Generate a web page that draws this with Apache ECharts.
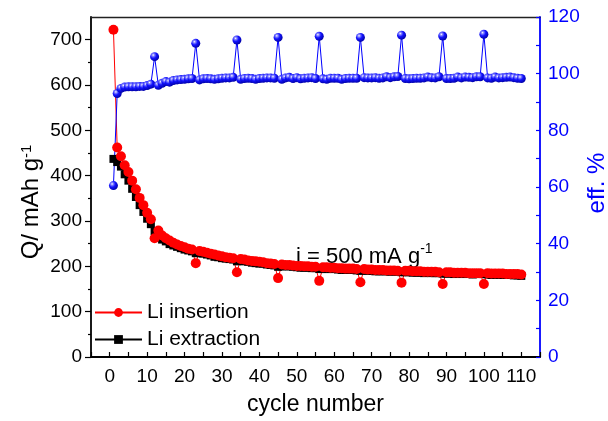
<!DOCTYPE html>
<html>
<head>
<meta charset="utf-8">
<script src="https://cdn.jsdelivr.net/npm/echarts@6/dist/echarts.min.js"></script>
<style>
html, body { margin: 0; padding: 0; background: #fff; }
#myChart { width: 608px; height: 421px; }
</style>
</head>
<body>
<div id="myChart"></div>
<script>
// cycle number 1..110
var cycles = [1,2,3,4,5,6,7,8,9,10,11,12,13,14,15,16,17,18,19,20,
    21,22,23,24,25,26,27,28,29,30,31,32,33,34,35,36,37,38,39,40,
    41,42,43,44,45,46,47,48,49,50,51,52,53,54,55,56,57,58,59,60,
    61,62,63,64,65,66,67,68,69,70,71,72,73,74,75,76,77,78,79,80,
    81,82,83,84,85,86,87,88,89,90,91,92,93,94,95,96,97,98,99,100,
    101,102,103,104,105,106,107,108,109,110];

// Q / mAh g-1 (Li insertion)
var insertion = [722,462,443,423,408,389,370,351,335,318,304,262,279,268,262,257,252,248,245,242,
    239,237,207,234,232,230,228,226,224,222,220,219,218,187,216,215,213,212,211,210,
    209,207,206,205,174,204,203,203,202,201,201,200,200,199,199,168,198,198,197,197,
    196,196,195,195,195,194,165,194,193,193,192,192,192,191,191,191,190,164,190,190,
    189,189,189,188,188,188,188,187,161,187,187,186,186,186,186,185,185,185,185,161,
    185,184,184,184,184,183,183,183,183,182];

// Q / mAh g-1 (Li extraction)
var extraction = [437,430,420,403,389,371,353,335,320,305,293,278,268,259,255,249,246,243,240,237,
    235,233,229,229,228,226,224,221,220,218,217,216,215,211,212,211,210,208,207,206,
    206,204,203,202,199,200,200,200,199,198,197,197,197,196,196,194,194,194,194,194,
    193,192,192,192,192,191,190,191,190,190,189,189,189,189,188,189,188,187,187,187,
    186,186,186,185,186,185,185,185,184,184,184,183,184,183,184,183,182,183,183,183,
    182,181,182,181,181,181,181,180,180,179];

// eff. %
var efficiency = [60.5,93.0,94.8,95.3,95.4,95.4,95.4,95.5,95.5,95.8,96.3,106.0,95.9,96.6,97.2,97.0,97.6,97.8,97.9,98.0,
    98.2,98.3,110.7,97.8,98.2,98.3,98.2,98.0,98.2,98.4,98.5,98.5,98.7,111.9,98.0,98.3,98.4,98.3,98.0,98.3,
    98.4,98.5,98.5,98.4,112.8,98.0,98.5,98.7,98.3,98.6,98.2,98.4,98.5,98.6,98.3,113.2,98.2,98.0,98.4,98.4,
    98.4,98.0,98.3,98.4,98.4,98.4,112.8,98.6,98.5,98.5,98.6,98.4,98.5,98.9,98.6,98.9,99.0,113.6,98.3,98.2,
    98.3,98.4,98.4,98.5,98.8,98.6,98.5,98.9,113.3,98.3,98.3,98.4,98.8,98.5,98.8,98.7,98.6,98.9,98.9,113.9,
    98.5,98.4,98.8,98.5,98.6,98.7,98.8,98.6,98.4,98.3];

var cycleLabels = [0,10,20,30,40,50,60,70,80,90,100,110];
var qTicks = [0,100,200,300,400,500,600,700];

function pairs(ys) {
    var res = [];
    for (var i = 0; i < ys.length; i++) {
        res.push([cycles[i], ys[i]]);
    }
    return res;
}

var myChart = echarts.init(document.getElementById('myChart'));
var font = 'Liberation Sans, Arial, sans-serif';

var ball = {
    type: 'radial', x: 0.35, y: 0.32, r: 0.7,
    colorStops: [
        {offset: 0, color: '#ffffff'},
        {offset: 0.18, color: '#8c8cff'},
        {offset: 0.5, color: '#1414ff'},
        {offset: 1, color: '#0000a8'}
    ]
};

myChart.setOption({
    animation: false,
    backgroundColor: '#fff',
    textStyle: {fontFamily: font},
    grid: {left: 91, right: 68, top: 17, bottom: 64, outerBoundsMode: 'none'},
    legend: {
        data: ['Li insertion', 'Li extraction'],
        orient: 'vertical', left: 94, top: 302, padding: 0,
        itemWidth: 47, itemHeight: 11, itemGap: 6,
        textStyle: {fontSize: 21, color: '#000', fontFamily: font}
    },
    graphic: [{
        type: 'text', left: 296, top: 242,
        style: {
            text: '{a|i = 500 mA g}{b|-1}',
            rich: {
                a: {fontSize: 22, fontFamily: font, fill: '#000', verticalAlign: 'bottom', lineHeight: 26},
                b: {fontSize: 14, fontFamily: font, fill: '#000', verticalAlign: 'top', lineHeight: 14}
            }
        }
    }],
    xAxis: [{
        type: 'value', min: -5, max: 115, interval: 5,
        axisLine: {onZero: false, lineStyle: {color: '#000', width: 1.8}},
        axisTick: {inside: true, length: 5, lineStyle: {color: '#000', width: 1.2}},
        axisLabel: {
            fontSize: 19, color: '#000', margin: 10, fontFamily: font,
            formatter: function (v) { return cycleLabels.indexOf(v) >= 0 ? String(v) : ''; }
        },
        splitLine: {show: false},
        name: 'cycle number', nameLocation: 'middle', nameGap: 36, nameMoveOverlap: false,
        nameTextStyle: {fontSize: 23, color: '#000', fontFamily: font}
    }, {
        type: 'value', min: -5, max: 115, position: 'top',
        axisLine: {show: true, onZero: false, lineStyle: {color: '#222', width: 1.4}},
        axisTick: {show: false}, axisLabel: {show: false}, splitLine: {show: false}
    }],
    yAxis: [{
        type: 'value', min: 0, max: 750, interval: 100, position: 'left',
        axisLine: {show: true, onZero: false, lineStyle: {color: '#000', width: 1.8}},
        axisTick: {show: true, length: 6, customValues: qTicks, lineStyle: {color: '#000', width: 1.2}},
        minorTick: {show: true, splitNumber: 2, length: 3, lineStyle: {color: '#000', width: 1.2}},
        axisLabel: {fontSize: 19, color: '#000', margin: 9, showMaxLabel: false, fontFamily: font},
        splitLine: {show: false},
        name: 'Q/ mAh g{s|-1}', nameLocation: 'middle', nameGap: 48, nameRotate: 90, nameMoveOverlap: false,
        nameTextStyle: {fontSize: 24, color: '#000', fontFamily: font, padding: [0, 30, 0, 0],
            rich: {s: {fontSize: 15, verticalAlign: 'top', fontFamily: font, color: '#000'}}}
    }, {
        type: 'value', min: 0, max: 120, interval: 20, position: 'right',
        axisLine: {show: true, onZero: false, lineStyle: {color: '#0000ff', width: 1.8}},
        axisTick: {show: true, inside: true, length: 4, lineStyle: {color: '#0000ff', width: 1.2}},
        minorTick: {show: true, splitNumber: 2, length: 4, lineStyle: {color: '#0000ff', width: 1.2}},
        axisLabel: {fontSize: 19, color: '#0000ff', margin: 8, fontFamily: font},
        splitLine: {show: false},
        name: 'eff. %', nameLocation: 'middle', nameGap: 45, nameRotate: 90, nameMoveOverlap: false,
        nameTextStyle: {fontSize: 24, color: '#0000ff', fontFamily: font, padding: [0, 0, 0, 8]}
    }],
    series: [{
        name: 'Li extraction', type: 'line', data: pairs(extraction),
        symbol: 'rect', symbolSize: 8, showAllSymbol: true,
        itemStyle: {color: '#000'}, lineStyle: {color: '#000', width: 1}
    }, {
        name: 'Li insertion', type: 'line', data: pairs(insertion),
        symbol: 'circle', symbolSize: 10, showAllSymbol: true,
        itemStyle: {color: '#ff0000'}, lineStyle: {color: '#ff0000', width: 1}
    }, {
        name: 'eff', type: 'line', yAxisIndex: 1, data: pairs(efficiency),
        symbol: 'circle', symbolSize: 9, showAllSymbol: true,
        itemStyle: {color: ball}, lineStyle: {color: '#0000ff', width: 1}
    }]
});
window.onresize = myChart.resize;
</script>
</body>
</html>
